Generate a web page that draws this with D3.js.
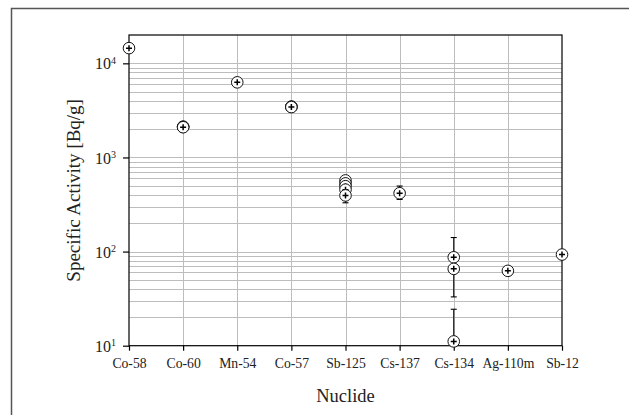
<!DOCTYPE html>
<html><head><meta charset="utf-8">
<script src="https://cdn.jsdelivr.net/npm/d3@7"></script>
<style>body{margin:0;background:#fff}svg{display:block}</style>
</head><body>
<svg id="c" width="629" height="415"></svg>
<script>
const nuclides = ["Co-58","Co-60","Mn-54","Co-57","Sb-125","Cs-137","Cs-134","Ag-110m","Sb-12"];
const pointNuclide = ["Co-58","Co-60","Co-60","Co-60","Mn-54","Co-57","Co-57","Co-57",
  "Sb-125","Sb-125","Sb-125","Sb-125","Sb-125","Cs-137","Cs-134","Cs-134","Cs-134","Ag-110m","Sb-12"];
const pointValue = [14500,2125,2110,2095,6280,3470,3450,3430,
  570,530,495,455,395,417,87,65.5,11.1,62.4,93];
const errLow  = [14500,2125,2110,2095,6280,3470,3450,3430,
  570,530,495,455,330,358,33,65.5,0.5,62.4,93];
const errHigh = [14500,2125,2110,2095,6280,3470,3450,3430,
  570,530,495,455,395,497,141,65.5,24.4,62.4,93];
const yTicks = [10,100,1000,10000];
const yDomain = [10,20000];

const svg = d3.select("#c");
const L=129, R=562, T=35, B=345.7;
const x = d3.scalePoint().domain(nuclides).range([L,R]).padding(0);
const y = d3.scaleLog().domain(yDomain).range([B,T]).clamp(true);

// outer frame
svg.append("path").attr("d",`M11.5,415 V8.5 H629`).attr("fill","none").attr("stroke","#555").attr("stroke-width",1.5);

// minor + major horizontal grid
const gridVals=[];
for(let e=1;e<=4;e++){for(let m=1;m<=9;m++){const v=m*Math.pow(10,e); if(v>10&&v<20000) gridVals.push(v);}}
svg.append("g").selectAll("line").data(gridVals).join("line")
  .attr("x1",L).attr("x2",R).attr("y1",d=>Math.round(y(d))+0.5).attr("y2",d=>Math.round(y(d))+0.5)
  .attr("stroke","#bdbdbd").attr("stroke-width",1);
// vertical grid
svg.append("g").selectAll("line").data(nuclides.slice(1,-1)).join("line")
  .attr("x1",d=>Math.round(x(d))+0.5).attr("x2",d=>Math.round(x(d))+0.5).attr("y1",T).attr("y2",B)
  .attr("stroke","#bdbdbd").attr("stroke-width",1);

// frame
svg.append("rect").attr("x",L).attr("y",T).attr("width",R-L).attr("height",B-T)
  .attr("fill","none").attr("stroke","#000").attr("stroke-width",1.2);

// axes
const xAxis = d3.axisBottom(x).tickSize(5).tickSizeOuter(0);
const gx = svg.append("g").attr("transform",`translate(0,${B})`).call(xAxis);
gx.select(".domain").remove();
gx.selectAll("line").attr("stroke","#000").attr("stroke-width",1.2);
gx.selectAll("text").attr("font-family","'Liberation Serif','Times New Roman',serif")
  .attr("font-size","13.7px").attr("fill","#222").attr("dy","1.05em");

const yAxis = d3.axisLeft(y).tickValues(yTicks).tickSize(6).tickSizeOuter(0).tickFormat(()=>"");
const gy = svg.append("g").attr("transform",`translate(${L},0)`).call(yAxis);
gy.select(".domain").remove();
gy.selectAll("line").attr("stroke","#000").attr("stroke-width",1.2);
gy.selectAll(".tick").each(function(d){
  const t=d3.select(this).append("text").attr("x",-13).attr("dy","0.35em").attr("text-anchor","end")
    .attr("font-family","'Liberation Serif','Times New Roman',serif").attr("font-size","16px").attr("fill","#222");
  t.append("tspan").text("10");
  t.append("tspan").text(String(Math.round(Math.log10(d)))).attr("font-size","10px").attr("dy","-0.55em");
});

// error bars
const pts = pointValue.map((v,i)=>({n:pointNuclide[i],v,lo:errLow[i],hi:errHigh[i]}));
const eb = svg.append("g").attr("stroke","#000").attr("stroke-width",1.1);
pts.filter(p=>p.lo<p.v||p.hi>p.v).forEach(p=>{
  const cx=x(p.n);
  eb.append("line").attr("x1",cx).attr("x2",cx).attr("y1",y(p.lo)).attr("y2",y(p.hi));
  [p.lo,p.hi].forEach(v=>{ if(v>=yDomain[0]&&v!==p.v) eb.append("line").attr("x1",cx-3).attr("x2",cx+3).attr("y1",y(v)).attr("y2",y(v)); });
});

// markers
const mg = svg.append("g");
pts.forEach(p=>{
  const cx=x(p.n), cy=y(p.v);
  const g=mg.append("g").attr("transform",`translate(${cx},${cy})`);
  g.append("circle").attr("r",5.8).attr("fill","#fff").attr("stroke","#111").attr("stroke-width",1);
  g.append("path").attr("d","M-3,0H3M0,-3V3").attr("stroke","#000").attr("stroke-width",1.5);
});

// titles
svg.append("text").attr("x",(L+R)/2).attr("y",402).attr("text-anchor","middle")
  .attr("font-family","'Liberation Serif','Times New Roman',serif").attr("font-size","18.5px").attr("fill","#222").text("Nuclide");
svg.append("text").attr("transform",`translate(80,${(T+B)/2}) rotate(-90)`).attr("text-anchor","middle")
  .attr("font-family","'Liberation Serif','Times New Roman',serif").attr("font-size","19px").attr("fill","#222").text("Specific Activity [Bq/g]");
</script>
</body></html>
